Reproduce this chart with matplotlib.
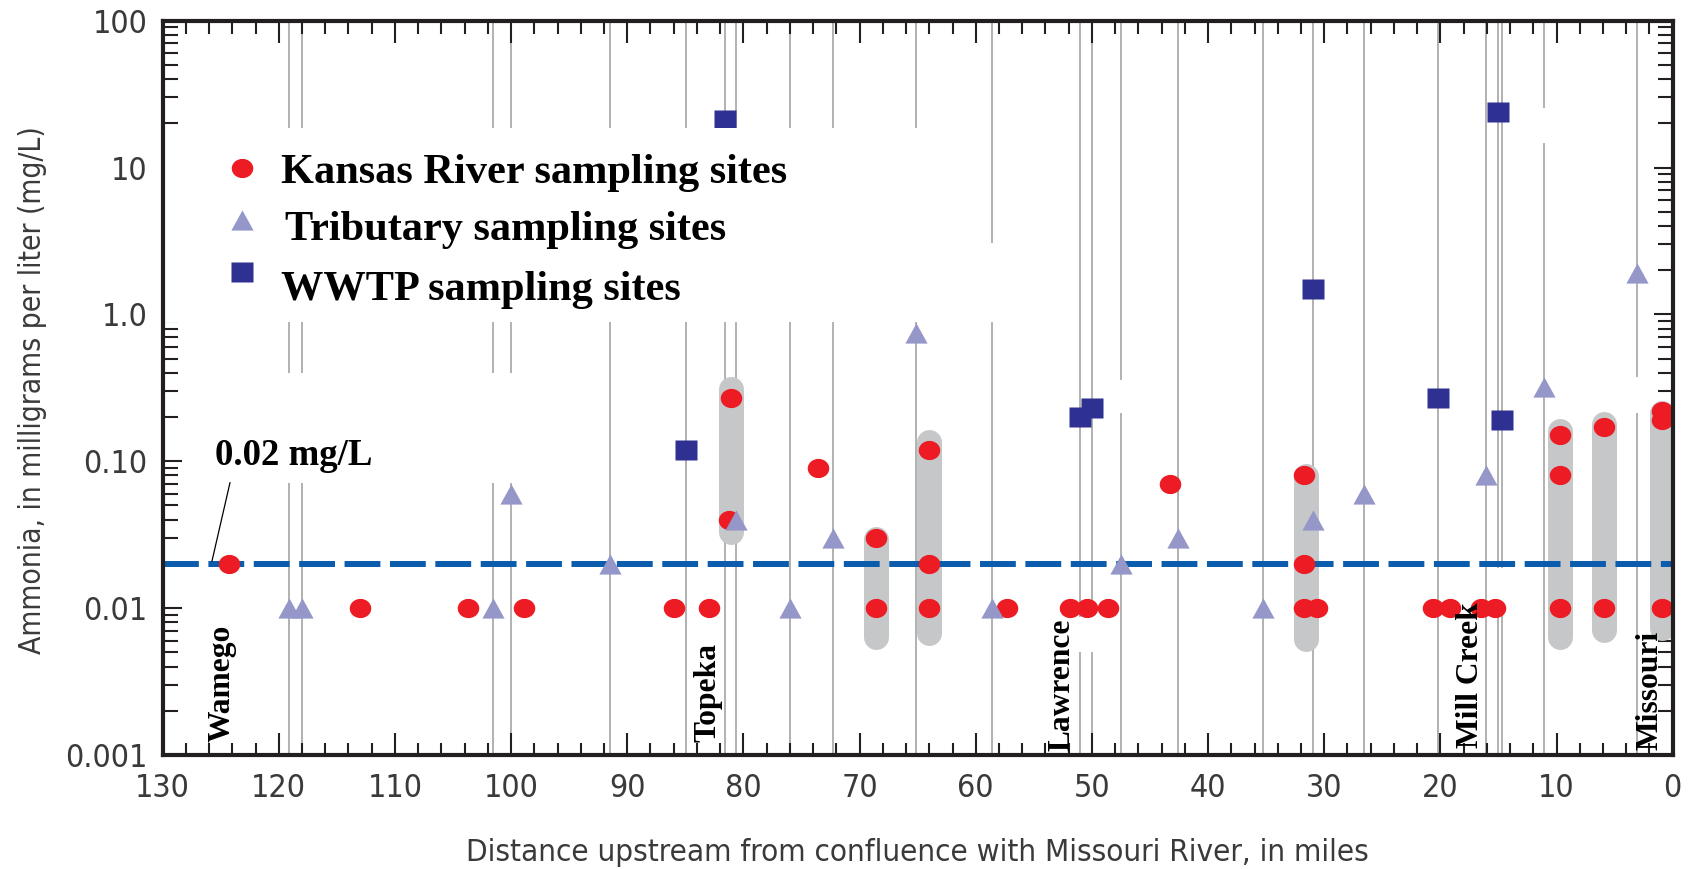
import numpy as np
import matplotlib
matplotlib.use("Agg")
import matplotlib.pyplot as plt
from matplotlib.path import Path
from matplotlib.transforms import Affine2D, blended_transform_factory
from matplotlib.ticker import MultipleLocator, LogLocator, NullFormatter

# Kansas River main-stem samples (miles upstream of the Missouri, ammonia in mg/L)
kansas_miles = [124.3, 113.0, 103.7, 98.9, 86.0, 83.0, 81.1, 81.2, 73.6, 68.6, 68.6,
                64.0, 64.0, 64.0, 57.3, 51.9, 50.4, 48.6, 43.3, 31.7, 31.7, 31.7, 30.6,
                20.6, 19.2, 16.5, 15.3, 9.7, 9.7, 9.7, 5.9, 5.9, 0.9, 0.9, 0.9]
kansas_nh3 = [0.02, 0.01, 0.01, 0.01, 0.01, 0.01, 0.27, 0.04, 0.09, 0.03, 0.01,
              0.12, 0.02, 0.01, 0.01, 0.01, 0.01, 0.01, 0.07, 0.08, 0.02, 0.01, 0.01,
              0.01, 0.01, 0.01, 0.01, 0.15, 0.08, 0.01, 0.17, 0.01, 0.22, 0.19, 0.01]

# tributary inflows
trib_miles = [119.1, 118.0, 101.6, 100.0, 91.5, 80.6, 76.0, 72.3, 65.1, 58.6,
              47.5, 42.6, 35.3, 31.0, 26.6, 16.1, 11.1, 3.1]
trib_nh3 = [0.01, 0.01, 0.01, 0.06, 0.02, 0.04, 0.01, 0.03, 0.75, 0.01,
            0.02, 0.03, 0.01, 0.04, 0.06, 0.08, 0.32, 1.9]

# wastewater treatment plant effluents
wwtp_miles = [84.9, 81.6, 51.0, 50.0, 31.0, 20.2, 15.0, 14.7]
wwtp_nh3 = [0.12, 21.0, 0.20, 0.23, 1.5, 0.27, 24.0, 0.19]

# shaded ranges of repeated main-stem samples: mile, low, high
range_miles = [81.1, 68.6, 64.0, 31.6, 9.7, 5.9, 0.9]
range_low = [0.027, 0.0052, 0.0056, 0.0051, 0.0052, 0.0058, 0.0060]
range_high = [0.38, 0.036, 0.165, 0.097, 0.196, 0.218, 0.26]

criterion = 0.02

towns = ["Wamego", "Topeka", "Lawrence", "Mill Creek", "Missouri"]
town_miles = [124.9, 83.05, 52.6, 17.4, 1.95]

yticks = [0.001, 0.01, 0.1, 1, 10, 100]
ytick_labels = ["0.001", "0.01", "0.10", "1.0", "10", "100"]

RED = "#ed1c24"
LAV = "#9597c9"
NAVY = "#2e3192"
SERIF = ["Liberation Serif", "DejaVu Serif"]
TXT = "#3a3a3a"
SANS = dict(family="DejaVu Sans", fontstretch="condensed")


def wide(path, sx):
    # slightly widened marker outline
    return Path(Affine2D().scale(sx, 1.0).transform(path.vertices), path.codes)


dot = wide(Path.unit_circle(), 1.12)
tri = wide(Path([(0, 1), (-1, -1), (1, -1), (0, 1)], closed=True), 1.1)
box = wide(Path.unit_rectangle().transformed(Affine2D().translate(-0.5, -0.5)), 1.12)

fig = plt.figure(figsize=(16.92, 8.69), dpi=100)
ax = fig.add_axes([0.0961, 0.1312, 0.8925, 0.8450])
ax.set_yscale("log")
ax.set_xlim(130, 0)
ax.set_ylim(0.001, 100)

# inflow site lines
for m in sorted(set(trib_miles + wwtp_miles)):
    ax.axvline(m, color="#9d9d9d", lw=1.1, zorder=1)

# white cut-outs in the site lines
gaps = [(95, 130, 0.0711, 0.398), (47.0, 48.0, 0.213, 0.358), (10.6, 11.6, 14.7, 25.4),
        (2.6, 3.6, 0.213, 0.375), (14.3, 15.5, 0.0093, 0.0188), (49.7, 51.3, 0.0050, 0.0087)]
for x0, x1, y0, y1 in gaps:
    ax.fill_between([x0, x1], y0, y1, color="white", lw=0, zorder=1.5)

# shaded capsules behind repeated samples
cap_w = 18.0
half_px = cap_w * fig.dpi / 72 / 2
inv = ax.transData.inverted()
for m, lo, hi in zip(range_miles, range_low, range_high):
    (px, py_lo), (_, py_hi) = ax.transData.transform([(m, lo), (m, hi)])
    y_lo = inv.transform((px, py_lo + half_px))[1]
    y_hi = inv.transform((px, py_hi - half_px))[1]
    ax.plot([m, m], [y_lo, y_hi], color="#c6c7c8", lw=cap_w,
            solid_capstyle="round", zorder=2)

ax.axhline(criterion, color="#0b5cad", lw=4.3, ls=(0, (6, 1.6)), zorder=2.5)

ax.plot(kansas_miles, kansas_nh3, ls="none", marker=dot, ms=15.5, color=RED, mec="none", zorder=3)
ax.plot(trib_miles, trib_nh3, ls="none", marker=tri, ms=16, color=LAV, mec="none", zorder=3.1)
ax.plot(wwtp_miles, wwtp_nh3, ls="none", marker=box, ms=16.5, color=NAVY, mec="none", zorder=3.2)

# blank panel behind the key
ax.fill_between([60, 130], 0.887, 18.6, color="white", lw=0, zorder=3.5)
ax.fill_between([57.5, 60], 0.887, 3.06, color="white", lw=0, zorder=3.5)

# key
key = [(dot, RED, 15.5, "Kansas River sampling sites", 0.799, 0.0784, 0.7795),
       (tri, LAV, 16, "Tributary sampling sites", 0.7286, 0.081, 0.7013),
       (box, NAVY, 16.5, "WWTP sampling sites", 0.6582, 0.0784, 0.6196)]
for mk, col, ms, label, my, tx, ty in key:
    ax.plot([0.0525], [my], ls="none", marker=mk, ms=ms, color=col, mec="none",
            transform=ax.transAxes, clip_on=False, zorder=5)
    ax.text(tx, ty, label, transform=ax.transAxes, family=SERIF,
            fontweight="bold", fontsize=30.5, va="baseline", ha="left", zorder=5)

# criterion label with leader
ax.text(125.5, 0.094, "0.02 mg/L", family=SERIF, fontweight="bold",
        fontsize=26.5, ha="left", va="baseline", zorder=5)
ax.plot([124.2, 125.75], [0.0714, 0.0209], color="black", lw=0.9, zorder=5)

# town markers along the bottom
tb = blended_transform_factory(ax.transData, ax.transAxes)
town_y = [0.018, 0.018, 0.005, 0.0095, 0.007]
for name, m, y in zip(towns, town_miles, town_y):
    ax.text(m, y, name, transform=tb, rotation=90, family=SERIF,
            fontweight="bold", fontsize=22.7, ha="center", va="bottom", zorder=6)

# axes styling
for s in ax.spines.values():
    s.set_linewidth(3.0)
    s.set_color("#231f20")
    s.set_zorder(7)

ax.set_xticks(np.arange(0, 131, 10))
ax.xaxis.set_minor_locator(MultipleLocator(2))
ax.set_yticks(yticks)
ax.set_yticklabels(ytick_labels)
ax.yaxis.set_minor_locator(LogLocator(base=10, subs=np.arange(2, 10)))
ax.yaxis.set_minor_formatter(NullFormatter())

ax.tick_params(which="both", direction="in", top=True, right=True,
               color="#231f20", width=1.5, labelcolor=TXT)
ax.tick_params(axis="x", which="major", length=16, pad=13, labelsize=23)
ax.tick_params(axis="x", which="minor", length=9)
ax.tick_params(axis="y", which="major", length=14, pad=11, labelsize=23)
ax.tick_params(axis="y", which="minor", length=11)
for lab in ax.get_xticklabels() + ax.get_yticklabels():
    lab.set_family(SANS["family"])
    lab.set_fontstretch(SANS["fontstretch"])

fig.text(0.019, 0.551, "Ammonia, in milligrams per liter (mg/L)", rotation=90,
         ha="center", va="center", fontsize=21.5, color=TXT, **SANS)
fig.text(0.5423, 0.0092, "Distance upstream from confluence with Missouri River, in miles",
         ha="center", va="baseline", fontsize=22.5, color=TXT, **SANS)

fig.savefig("out.png", dpi=100, facecolor="white")
